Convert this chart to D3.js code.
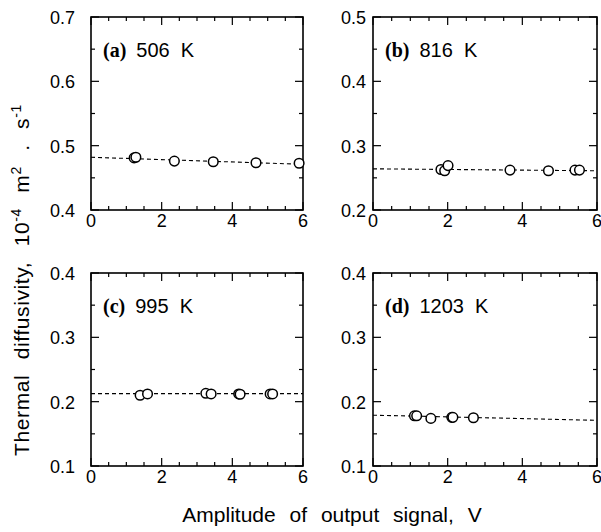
<!DOCTYPE html>
<html>
<head>
<meta charset="utf-8">
<script src="https://cdn.jsdelivr.net/npm/d3@7"></script>
<style>
  body { margin: 0; background: #fff; }
  svg text { font-family: "Liberation Sans", Arial, sans-serif; fill: #000; }
</style>
</head>
<body>
<div id="chart"></div>
<script>
// panel labels
var panelTags = ["(a)", "(b)", "(c)", "(d)"];
var tempLabels = ["506  K", "816  K", "995  K", "1203  K"];

// y ranges of each panel
var yDomains = [[0.4, 0.7], [0.2, 0.5], [0.1, 0.4], [0.1, 0.4]];
var xTicks = [0, 2, 4, 6];

// measured points (amplitude V, diffusivity 1e-4 m2/s)
var ampA = [1.22, 1.27, 2.36, 3.46, 4.67, 5.89];
var difA = [0.481, 0.482, 0.476, 0.475, 0.4735, 0.4726];
var ampB = [1.82, 1.92, 2.01, 3.67, 4.70, 5.41, 5.53];
var difB = [0.263, 0.261, 0.269, 0.262, 0.261, 0.262, 0.262];
var ampC = [1.39, 1.60, 3.25, 3.40, 4.18, 4.22, 5.07, 5.14];
var difC = [0.210, 0.212, 0.213, 0.212, 0.212, 0.2115, 0.212, 0.212];
var ampD = [1.11, 1.17, 1.55, 2.11, 2.14, 2.69];
var difD = [0.178, 0.178, 0.174, 0.1756, 0.1756, 0.175];

// dashed fit lines, value at x=0 and x=6
var fitA = [0.482, 0.471];
var fitB = [0.264, 0.261];
var fitC = [0.2125, 0.2125];
var fitD = [0.179, 0.171];

var amps = [ampA, ampB, ampC, ampD];
var difs = [difA, difB, difC, difD];
var fits = [fitA, fitB, fitC, fitD];

var W = 601, H = 532;
var colX = [[91, 303], [373, 597]];
var rowY = [[17, 210], [273, 466]];
var labelGap = [16, 7];

var svg = d3.select("#chart").append("svg")
  .attr("width", W)
  .attr("height", H);

for (var p = 0; p < 4; p++) {
  var col = p % 2, row = Math.floor(p / 2);
  var x = d3.scaleLinear().domain([0, 6]).range(colX[col]);
  var y = d3.scaleLinear().domain(yDomains[p]).range([rowY[row][1], rowY[row][0]]);
  var g = svg.append("g");
  var x0 = colX[col][0], x1 = colX[col][1];
  var y0 = rowY[row][1], y1 = rowY[row][0];

  // ticks, inward on all four sides
  var xt = d3.range(0, 6.01, 0.5);
  xt.forEach(function (v) {
    var len = (Math.abs(v % 2) < 1e-6) ? 8 : 4;
    g.append("line").attr("x1", x(v)).attr("x2", x(v)).attr("y1", y0).attr("y2", y0 - len)
      .attr("stroke", "#000").attr("stroke-width", 1.2);
    g.append("line").attr("x1", x(v)).attr("x2", x(v)).attr("y1", y1).attr("y2", y1 + len)
      .attr("stroke", "#000").attr("stroke-width", 1.2);
  });
  var yt = d3.range(yDomains[p][0], yDomains[p][1] + 0.001, 0.05);
  yt.forEach(function (v, i) {
    var len = (i % 2 == 0) ? 8 : 4;
    g.append("line").attr("x1", x0).attr("x2", x0 + len).attr("y1", y(v)).attr("y2", y(v))
      .attr("stroke", "#000").attr("stroke-width", 1.2);
    g.append("line").attr("x1", x1).attr("x2", x1 - len).attr("y1", y(v)).attr("y2", y(v))
      .attr("stroke", "#000").attr("stroke-width", 1.2);
  });

  // frame
  g.append("rect")
    .attr("x", x0).attr("y", y1)
    .attr("width", x1 - x0).attr("height", y0 - y1)
    .attr("fill", "none").attr("stroke", "#000").attr("stroke-width", 1.6);

  // tick labels
  g.selectAll(".xl").data(xTicks).enter().append("text")
    .attr("x", function (d) { return x(d); })
    .attr("y", y0 + 17)
    .attr("text-anchor", "middle")
    .style("font-size", "18px")
    .text(function (d) { return d; });
  var ylab = d3.range(yDomains[p][0], yDomains[p][1] + 0.001, 0.1);
  g.selectAll(".yl").data(ylab).enter().append("text")
    .attr("x", x0 - labelGap[col])
    .attr("y", function (d) { return y(d); })
    .attr("dy", "0.38em")
    .attr("text-anchor", "end")
    .style("font-size", "18px")
    .text(function (d) { return d3.format(".1f")(d); });

  // fit line
  g.append("line")
    .attr("x1", x(0)).attr("y1", y(fits[p][0]))
    .attr("x2", x(6)).attr("y2", y(fits[p][1]))
    .attr("stroke", "#000").attr("stroke-width", 1.1)
    .attr("stroke-dasharray", "4,3");

  // points
  var pts = amps[p].map(function (a, i) { return [a, difs[p][i]]; });
  g.selectAll("circle").data(pts).enter().append("circle")
    .attr("cx", function (d) { return x(d[0]); })
    .attr("cy", function (d) { return y(d[1]); })
    .attr("r", 4.8)
    .attr("fill", "#fff")
    .attr("stroke", "#000")
    .attr("stroke-width", 1.5);

  // panel label
  var lab = g.append("text")
    .attr("x", x0 + 12)
    .attr("y", y1 + 40)
    .style("font-size", "20px")
    .style("white-space", "pre");
  lab.append("tspan")
    .style("font-family", "'Liberation Serif', 'Times New Roman', serif")
    .style("font-weight", "bold")
    .style("font-size", "20px")
    .text(panelTags[p]);
  lab.append("tspan").attr("dx", 10).text(tempLabels[p]);
}

// axis titles
svg.append("text")
  .attr("x", 332)
  .attr("y", 522)
  .attr("text-anchor", "middle")
  .style("font-size", "21px")
  .style("word-spacing", "8px")
  .text("Amplitude of output signal, V");

var yt = svg.append("text")
  .attr("transform", "translate(29," + 280 + ") rotate(-90)")
  .attr("text-anchor", "middle")
  .style("font-size", "21px")
  .style("letter-spacing", "0.6px")
  .style("word-spacing", "9px");
yt.append("tspan").text("Thermal diffusivity, 10");
yt.append("tspan").attr("dy", -8).style("font-size", "14px").text("-4");
yt.append("tspan").attr("dy", 8).text(" m");
yt.append("tspan").attr("dy", -8).style("font-size", "14px").text("2");
yt.append("tspan").attr("dy", 8).text(" . s");
yt.append("tspan").attr("dy", -8).style("font-size", "14px").text("-1");
</script>
</body>
</html>
